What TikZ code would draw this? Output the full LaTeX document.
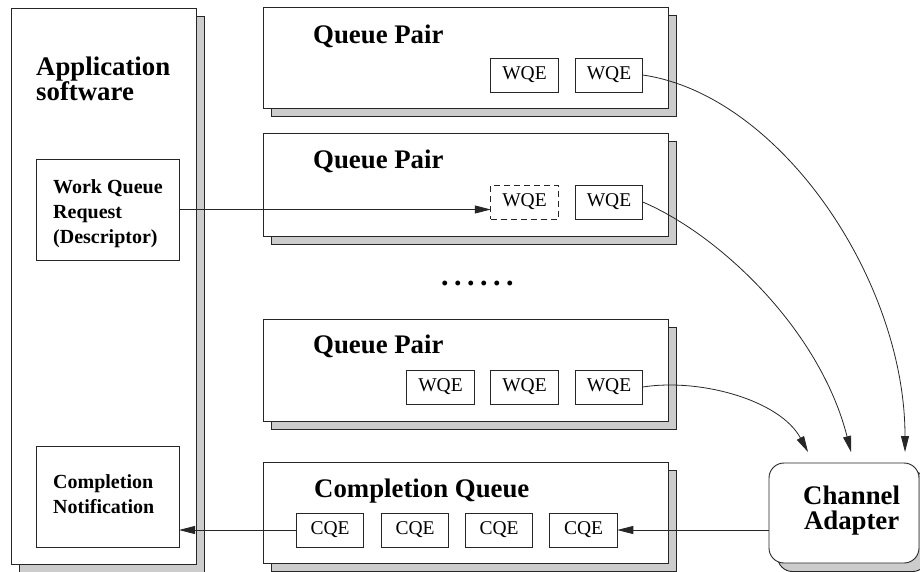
\documentclass[tikz,border=0pt]{standalone}
\usepackage{fontspec}
\setmainfont{Liberation Serif}
\usetikzlibrary{fit,shadows,arrows.meta}
\definecolor{shgray}{gray}{0.8}
\definecolor{ink}{gray}{0.15}
\begin{document}
\begin{tikzpicture}[x=1pt,y=-1pt,
  panel/.style={draw=ink, line width=0.9pt, fill=white, inner sep=0pt, outer sep=0pt,
    drop shadow={shadow xshift=8.5pt, shadow yshift=-8.5pt, opacity=1,
                 fill=shgray, draw=ink, line width=0.9pt}},
  item/.style={draw=ink, line width=0.8pt, fill=white, inner sep=0pt, outer sep=0pt,
    minimum width=67.5pt, minimum height=34pt, font=\fontsize{19.5}{20}\selectfont},
  pending/.style={item, dash pattern=on 6pt off 4pt},
  box/.style={draw=ink, line width=0.8pt, fill=white, inner sep=0pt, outer sep=0pt},
  title/.style={anchor=base west, inner sep=0pt, font=\bfseries\fontsize{26.8}{25}\selectfont},
  note/.style={anchor=base west, inner sep=0pt, font=\bfseries\fontsize{20}{25}\selectfont},
  flow/.style={draw=ink, line width=0.8pt, -{Triangle[length=16pt,width=8pt]}},
]
\useasboundingbox (0,0) rectangle (920,571);

% application side
\node[panel, fit={(11,8) (196,564)}] (app) {};
\node[title] (apptext) at (36,75) {\vtop{\hbox{Application}\hbox{software}}};
\node[box, fit={(36,159) (179,260)}] (wqr) {};
\node[note] (wqrtext) at (53,193) {\vtop{\hbox{Work Queue}\hbox{Request}\hbox{(Descriptor)}}};
\node[box, fit={(36,446) (179,547)}] (cn) {};
\node[note] (cntext) at (53,488) {\vtop{\hbox{Completion}\hbox{Notification}}};

% queue pairs
\node[panel, fit={(263,7) (668,108)}] (qp1) {};
\node[title] (qp1text) at (313,43) {Queue Pair};
\node[item] (w11) at (524.5,75) {WQE};
\node[item] (w12) at (609,75) {WQE};

\node[panel, fit={(263,133) (668,236)}] (qp2) {};
\node[title] (qp2text) at (313,168) {Queue Pair};
\node[pending] (w21) at (524.5,202) {WQE};
\node[item] (w22) at (609,202) {WQE};

\node[anchor=base west, inner sep=0pt, font=\bfseries\fontsize{30}{30}\selectfont]
  (dots) at (441,285.5) {.\kern5.5pt.\kern5.5pt.\kern5.5pt.\kern5.5pt.\kern5.5pt.};

\node[panel, fit={(263,319) (668,421)}] (qp3) {};
\node[title] (qp3text) at (313,353) {Queue Pair};
\node[item] (w31) at (440.5,387) {WQE};
\node[item] (w32) at (524.5,387) {WQE};
\node[item] (w33) at (609,387) {WQE};

% completion queue
\node[panel, fit={(263,462) (668,563)}] (cq) {};
\node[title] (cqtext) at (314,497) {Completion Queue};
\node[item] (c1) at (330,530) {CQE};
\node[item] (c2) at (415,530) {CQE};
\node[item] (c3) at (499,530) {CQE};
\node[item] (c4) at (583.5,530) {CQE};

% channel adapter
\node[panel, rounded corners=15pt, fit={(769,463) (919,563)}] (ca) {};
\node[title] (catext) at (803,504) {\vtop{\hbox{Channel}\hbox{\kern0.8pt Adapter}}};

% arrow ends above the adapter
\coordinate (t1) at (905,452);
\coordinate (t2) at (851,452);
\coordinate (t3) at (808,452);

% connectors
\draw[flow] (wqr.east) -- (wqr.east -| w21.west);
\draw[flow] (ca.west |- c4) -- (c4.east);
\draw[flow] (c1.west) -- (cn.east |- c1);
\draw[flow] (w12.east) .. controls (780,95) and (905,280) .. (t1);
\draw[flow] (w22.east) .. controls (720,235) and (820,330) .. (t2);
\draw[flow] (w33.east) .. controls (700,378) and (780,400) .. (t3);
\end{tikzpicture}
\end{document}
